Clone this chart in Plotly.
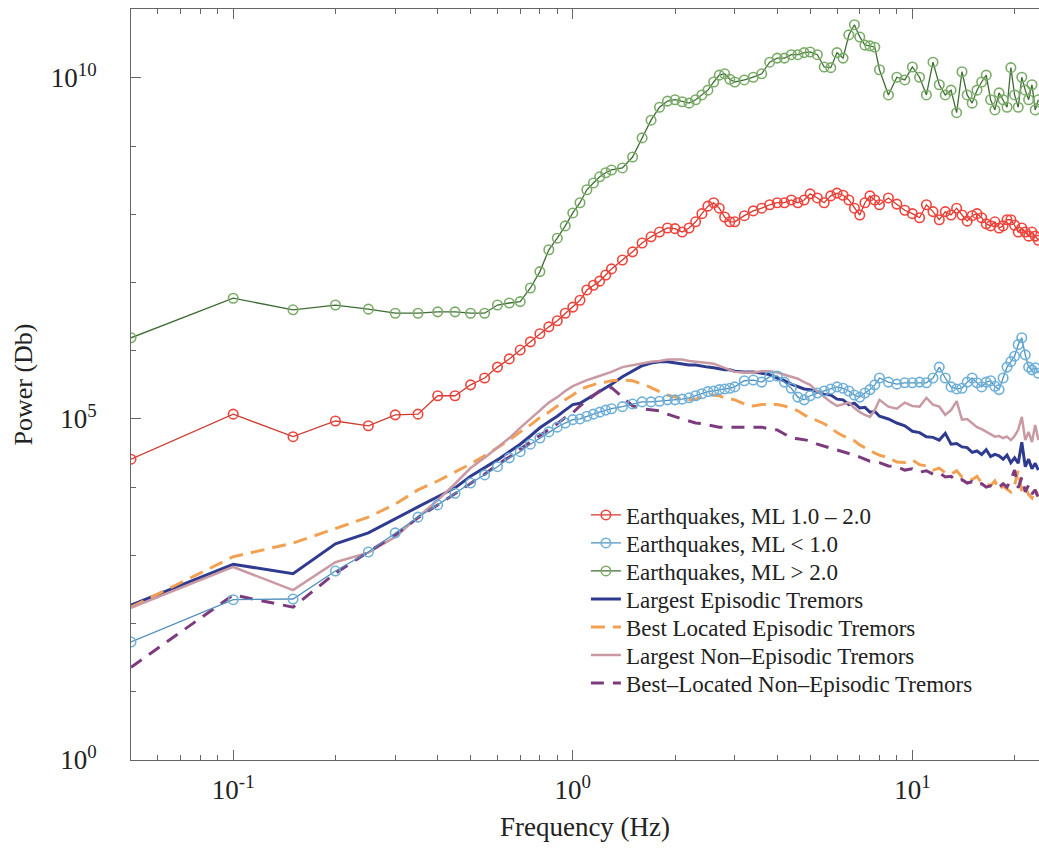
import numpy as np
import plotly.graph_objects as go

# Frequency grid shared by all spectra (Hz)
freq_hz = [
    0.05, 0.1, 0.15, 0.2, 0.25, 0.3, 0.35, 0.4, 0.45, 0.5,
    0.55, 0.6, 0.65, 0.7, 0.75, 0.8, 0.85, 0.9, 0.95, 1.0,
    1.05, 1.1, 1.15, 1.2, 1.25, 1.3,
    1.4, 1.5, 1.6, 1.7, 1.8, 1.9, 2.0, 2.1, 2.2, 2.3, 2.4, 2.5, 2.6, 2.7, 2.8, 2.9, 3.0,
    3.2, 3.4, 3.6, 3.8, 4.0, 4.2, 4.4, 4.6, 4.8, 5.0,
    5.25, 5.5, 5.75, 6.0, 6.25, 6.5, 6.75, 7.0, 7.25, 7.5, 7.75, 8.0,
    8.5, 9.0, 9.5, 10, 10.5, 11, 11.5, 12, 12.5, 13, 13.5, 14, 14.5, 15, 15.5,
    16, 16.5, 17, 17.5, 18, 18.5, 19, 19.5, 20, 20.5, 21, 21.5, 22, 22.5, 23, 23.5,
]

# log10 of spectral power for each group
log_eq_ml_1_2 = [
    4.41, 5.07, 4.74, 4.97, 4.90, 5.06, 5.07, 5.34, 5.34, 5.50,
    5.60, 5.76, 5.88, 6.01, 6.13, 6.25, 6.35, 6.44, 6.55, 6.64,
    6.74, 6.89, 6.96, 7.02, 7.11, 7.20,
    7.33, 7.45, 7.58, 7.67, 7.74, 7.80, 7.79, 7.74, 7.80, 7.89, 8.01, 8.12, 8.17, 8.09, 7.96, 7.89, 7.89,
    7.98, 8.05, 8.09, 8.14, 8.17, 8.17, 8.21, 8.17, 8.21, 8.30,
    8.24, 8.17, 8.27, 8.31, 8.28, 8.21, 8.09, 7.99, 8.17, 8.27, 8.21, 8.14,
    8.24, 8.15, 8.06, 8.01, 7.95, 8.14, 8.04, 7.92, 8.04, 7.99, 8.09, 7.99, 7.90, 7.98, 8.01,
    7.95, 7.86, 7.83, 7.89, 7.80, 7.83, 7.92, 7.92, 7.84, 7.74, 7.80, 7.74, 7.68, 7.74, 7.68, 7.62,
]
log_eq_ml_lt_1 = [
    1.73, 2.35, 2.36, 2.77, 3.05, 3.33, 3.56, 3.74, 3.91, 4.06,
    4.18, 4.30, 4.43, 4.52, 4.63, 4.72, 4.81, 4.88, 4.94, 4.99,
    5.00, 5.04, 5.07, 5.10, 5.13, 5.15,
    5.18, 5.22, 5.25, 5.25, 5.26, 5.28, 5.28, 5.29, 5.31, 5.34, 5.37, 5.40, 5.41, 5.43, 5.44, 5.45, 5.47,
    5.56, 5.57, 5.54, 5.62, 5.63, 5.54, 5.45, 5.32, 5.28, 5.34,
    5.38, 5.41, 5.44, 5.47, 5.45, 5.41, 5.35, 5.32, 5.38, 5.43, 5.50, 5.60,
    5.54, 5.51, 5.53, 5.53, 5.54, 5.53, 5.60, 5.76, 5.60, 5.47, 5.44, 5.45, 5.54, 5.60, 5.53,
    5.47, 5.54, 5.56, 5.48, 5.43, 5.60, 5.76, 5.84, 5.92, 6.09, 6.19, 5.94, 5.76, 5.72, 5.75, 5.67,
]
log_eq_ml_gt_2 = [
    6.19, 6.77, 6.60, 6.67, 6.61, 6.55, 6.55, 6.57, 6.57, 6.55,
    6.55, 6.67, 6.70, 6.72, 6.92, 7.16, 7.48, 7.65, 7.83, 8.02,
    8.17, 8.36, 8.46, 8.55, 8.61, 8.65,
    8.68, 8.84, 9.12, 9.38, 9.57, 9.66, 9.68, 9.65, 9.63, 9.68, 9.75, 9.82, 9.94, 10.04, 10.06, 9.98, 9.94,
    9.97, 10.01, 10.06, 10.23, 10.29, 10.29, 10.34, 10.34, 10.37, 10.38,
    10.34, 10.16, 10.15, 10.37, 10.29, 10.63, 10.78, 10.60, 10.48, 10.47, 10.45, 10.12,
    9.75, 10.01, 9.97, 10.16, 10.01, 9.75, 10.23, 9.90, 9.75, 9.82, 9.49, 10.09, 9.75, 9.63, 9.82,
    9.94, 10.04, 9.68, 9.53, 9.78, 9.68, 9.57, 10.15, 9.75, 9.57, 10.01, 9.82, 9.68, 9.90, 9.53, 9.68,
]
log_largest_episodic = [
    2.27, 2.87, 2.73, 3.17, 3.33, 3.53, 3.71, 3.86, 3.99, 4.16,
    4.28, 4.40, 4.52, 4.63, 4.75, 4.87, 4.96, 5.04, 5.13, 5.21,
    5.23, 5.29, 5.35, 5.41, 5.46, 5.51,
    5.62, 5.70, 5.78, 5.82, 5.84, 5.84, 5.82, 5.81, 5.79, 5.79, 5.78, 5.76, 5.75, 5.73, 5.72, 5.72, 5.70,
    5.69, 5.69, 5.67, 5.65, 5.60, 5.56, 5.51, 5.47, 5.44, 5.43,
    5.40, 5.36, 5.35, 5.29, 5.28, 5.21, 5.23, 5.16, 5.17, 5.10, 5.11, 5.04,
    5.00, 4.94, 4.90, 4.82, 4.80, 4.74, 4.73, 4.69, 4.79, 4.63, 4.64, 4.59, 4.58, 4.51, 4.53,
    4.48, 4.55, 4.45, 4.48, 4.46, 4.41, 4.47, 4.36, 4.43, 4.35, 4.66, 4.30, 4.41, 4.27, 4.35, 4.25,
]
log_best_episodic = [
    2.24, 2.98, 3.18, 3.39, 3.56, 3.75, 3.96, 4.09, 4.22, 4.34,
    4.46, 4.58, 4.69, 4.81, 4.91, 5.02, 5.10, 5.19, 5.28, 5.35,
    5.43, 5.47, 5.50, 5.53, 5.54, 5.56,
    5.57, 5.56, 5.51, 5.46, 5.40, 5.35, 5.32, 5.29, 5.28, 5.29, 5.32, 5.35, 5.35, 5.34, 5.31, 5.29, 5.28,
    5.22, 5.19, 5.21, 5.21, 5.21, 5.19, 5.16, 5.12, 5.06, 5.02,
    4.97, 4.93, 4.87, 4.80, 4.75, 4.71, 4.68, 4.62, 4.58, 4.53, 4.50, 4.47,
    4.43, 4.37, 4.36, 4.40, 4.33, 4.31, 4.25, 4.28, 4.21, 4.19, 4.24, 4.15, 4.14, 4.11, 4.16,
    4.06, 4.05, 4.02, 4.09, 3.96, 4.02, 3.97, 3.93, 4.03, 4.25, 3.93, 4.00, 3.89, 3.84, 3.96, 3.86,
]
log_largest_non_episodic = [
    2.23, 2.83, 2.49, 2.90, 3.04, 3.27, 3.56, 3.81, 4.05, 4.28,
    4.43, 4.58, 4.72, 4.87, 5.00, 5.13, 5.24, 5.32, 5.41, 5.48,
    5.53, 5.57, 5.60, 5.63, 5.66, 5.69,
    5.76, 5.79, 5.82, 5.84, 5.85, 5.87, 5.87, 5.87, 5.85, 5.84, 5.84, 5.82, 5.81, 5.78, 5.75, 5.72, 5.69,
    5.68, 5.68, 5.70, 5.70, 5.68, 5.65, 5.62, 5.59, 5.54, 5.50,
    5.40, 5.32, 5.25, 5.19, 5.21, 5.24, 5.16, 5.10, 5.06, 5.03, 5.13, 5.28,
    5.18, 5.15, 5.24, 5.19, 5.18, 5.31, 5.21, 5.18, 5.06, 5.13, 5.26, 4.99, 5.00, 4.94, 4.88,
    4.85, 4.81, 4.78, 4.74, 4.75, 4.72, 4.74, 4.69, 4.75, 4.84, 5.03, 4.69, 4.81, 4.66, 4.91, 4.69,
]
log_best_non_episodic = [
    1.36, 2.42, 2.24, 2.74, 3.05, 3.30, 3.55, 3.74, 3.90, 4.05,
    4.19, 4.33, 4.44, 4.56, 4.66, 4.75, 4.84, 4.93, 5.02, 5.09,
    5.19, 5.26, 5.34, 5.41, 5.44, 5.46,
    5.32, 5.19, 5.15, 5.13, 5.12, 5.07, 5.03, 5.00, 4.97, 4.94, 4.93, 4.91, 4.90, 4.88, 4.88, 4.88, 4.88,
    4.88, 4.88, 4.88, 4.85, 4.84, 4.78, 4.72, 4.71, 4.69, 4.68,
    4.63, 4.60, 4.58, 4.55, 4.52, 4.49, 4.47, 4.44, 4.41, 4.38, 4.37, 4.36,
    4.31, 4.30, 4.25, 4.27, 4.22, 4.24, 4.19, 4.21, 4.15, 4.16, 4.09, 4.11, 4.06, 4.08, 4.03,
    4.05, 4.00, 4.02, 3.99, 4.00, 4.05, 4.00, 4.11, 4.25, 3.99, 4.14, 3.93, 4.03, 3.90, 3.96, 3.84,
]

SERIF = "Liberation Serif"
TEXT = "#222222"
AXIS = "#666666"

# One single-entry legend per series lets the key keep a tight row pitch
LEGEND_IDS = ["legend", "legend2", "legend3", "legend4", "legend5", "legend6", "legend7"]


def power(logs):
    return np.power(10.0, np.asarray(logs, dtype=float))


fig = go.Figure()

# Tremor spectra (drawn first, underneath the earthquake spectra)
tremors = [
    ("Largest Episodic Tremors", log_largest_episodic, "#2f3b8f", 3, "solid", 3),
    ("Best Located Episodic Tremors", log_best_episodic, "#f2a052", 3, "14px,8px", 4),
    ("Largest Non\u2013Episodic Tremors", log_largest_non_episodic, "#c99aa3", 2.5, "solid", 5),
    ("Best\u2013Located Non\u2013Episodic Tremors", log_best_non_episodic, "#7c3b7e", 3, "13px,9px", 6),
]
for name, logs, color, width, dash, slot in tremors:
    fig.add_trace(go.Scatter(
        x=freq_hz, y=power(logs), mode="lines", name=name,
        line=dict(color=color, width=width, dash=dash),
        legend=LEGEND_IDS[slot],
    ))

# Earthquake spectra with open circle markers
quakes = [
    ("Earthquakes, ML 1.0 \u2013 2.0", log_eq_ml_1_2, "#cc3b30", "#f0443c", 0),
    ("Earthquakes, ML < 1.0", log_eq_ml_lt_1, "#4f8fbb", "#6fb0d9", 1),
    ("Earthquakes, ML > 2.0", log_eq_ml_gt_2, "#3f6b34", "#7aac68", 2),
]
for name, logs, lcolor, mcolor, slot in quakes:
    fig.add_trace(go.Scatter(
        x=freq_hz, y=power(logs), mode="lines+markers", name=name,
        line=dict(color=lcolor, width=1.3),
        marker=dict(symbol="circle-open", size=9.5, color=mcolor, line=dict(width=1.6)),
        legend=LEGEND_IDS[slot],
    ))

x_minor = [0.06, 0.07, 0.08, 0.09, 0.2, 0.3, 0.4, 0.5, 0.6, 0.7, 0.8, 0.9,
           2, 3, 4, 5, 6, 7, 8, 9, 20]
y_minor = [10.0 ** k for k in (1, 2, 3, 4, 6, 7, 8, 9, 11)]

fig.update_xaxes(
    type="log",
    range=[np.log10(0.05), np.log10(23.6)],
    tickvals=[0.1, 1, 10],
    ticktext=["10<sup>-1</sup>", "10<sup>0</sup>", "10<sup>1</sup>"],
    ticks="inside", ticklen=10, tickcolor=AXIS, tickwidth=1,
    minor=dict(tickvals=x_minor, ticks="inside", ticklen=5, tickcolor=AXIS, showgrid=False),
    showline=True, linecolor=AXIS, linewidth=1, mirror="ticks",
    showgrid=False, zeroline=False,
    tickfont=dict(family=SERIF, size=27, color=TEXT),
    ticklabelstandoff=6,
    title=dict(text="Frequency (Hz)", font=dict(family=SERIF, size=27, color=TEXT), standoff=12),
)
fig.update_yaxes(
    type="log",
    range=[0, 11.01],
    tickvals=[1, 1e5, 1e10],
    ticktext=["10<sup>0</sup>", "10<sup>5</sup>", "10<sup>10</sup>"],
    ticks="inside", ticklen=10, tickcolor=AXIS, tickwidth=1,
    minor=dict(tickvals=y_minor, ticks="inside", ticklen=5, tickcolor=AXIS, showgrid=False),
    showline=True, linecolor=AXIS, linewidth=1, mirror=False,
    showgrid=False, zeroline=False,
    tickfont=dict(family=SERIF, size=27, color=TEXT),
    ticklabelstandoff=28,
    title=dict(text="Power (Db)", font=dict(family=SERIF, size=26, color=TEXT), standoff=10),
)

# Legend rows: centre of each row in paper coordinates
row_pitch = 28.0 / 751.0
first_row = (760.0 - 515.0) / 751.0
legend_layout = {}
for i, lid in enumerate(LEGEND_IDS):
    legend_layout[lid] = dict(
        x=0.501, y=first_row - i * row_pitch, xanchor="left", yanchor="middle",
        bgcolor="rgba(0,0,0,0)", borderwidth=0,
        font=dict(family=SERIF, size=23, color=TEXT),
        itemwidth=30, tracegroupgap=0,
    )

fig.update_layout(
    width=1039, height=849,
    margin=dict(l=131, r=0, t=9, b=89),
    paper_bgcolor="white", plot_bgcolor="white",
    showlegend=True,
    **legend_layout,
)

fig.write_html("out.html")
